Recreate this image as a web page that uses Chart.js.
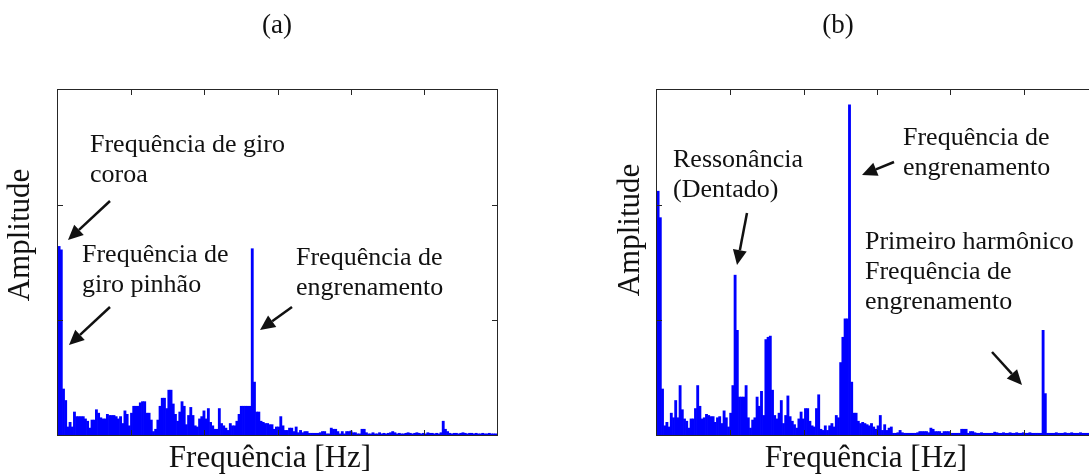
<!DOCTYPE html>
<html>
<head>
<meta charset="utf-8">
<title>Espectros (a) e (b)</title>
<script src="https://cdn.jsdelivr.net/npm/chart.js@4/dist/chart.umd.min.js"></script>
<style>
  html, body { margin: 0; padding: 0; background: #fff; overflow: hidden; }
  #wrapA { position: absolute; left: 0; top: 0; width: 545px; height: 474px; }
  #wrapB { position: absolute; left: 545px; top: 0; width: 555px; height: 474px; }
</style>
</head>
<body>
<div id="wrapA"><canvas id="chartA" width="545" height="474"></canvas></div>
<div id="wrapB"><canvas id="chartB" width="555" height="474"></canvas></div>
<script>
// frequency bins (200 per spectrum), amplitude (axis 0..3)
const freqBins = Array.from({ length: 200 }, (_, i) => String(i));

const amplitudeA = [
  1.64, 1.61, 0.40, 0.30, 0.07, 0.11, 0.07, 0.20, 0.16, 0.16,
  0.16, 0.16, 0.14, 0.12, 0.06, 0.13, 0.13, 0.22, 0.19, 0.15,
  0.14, 0.14, 0.18, 0.17, 0.17, 0.17, 0.16, 0.14, 0.16, 0.10,
  0.21, 0.18, 0.08, 0.19, 0.25, 0.25, 0.25, 0.28, 0.29, 0.29,
  0.19, 0.19, 0.13, 0.03, 0.05, 0.13, 0.25, 0.32, 0.32, 0.23,
  0.39, 0.39, 0.27, 0.18, 0.12, 0.20, 0.29, 0.25, 0.09, 0.17,
  0.24, 0.17, 0.08, 0.07, 0.14, 0.16, 0.21, 0.14, 0.23, 0.11,
  0.08, 0.05, 0.05, 0.23, 0.10, 0.08, 0.06, 0.04, 0.10, 0.08,
  0.08, 0.12, 0.18, 0.25, 0.25, 0.25, 0.25, 0.25, 1.62, 0.46,
  0.20, 0.20, 0.12, 0.11, 0.10, 0.10, 0.09, 0.09, 0.05, 0.07,
  0.07, 0.16, 0.08, 0.04, 0.04, 0.06, 0.06, 0.03, 0.07, 0.02,
  0.04, 0.02, 0.03, 0.03, 0.015, 0.015, 0.015, 0.015, 0.015, 0.02,
  0.03, 0.03, 0.01, 0.01, 0.06, 0.05, 0.05, 0.03, 0.01, 0.03,
  0.01, 0.03, 0.03, 0.035, 0.02, 0.02, 0.01, 0.01, 0.05, 0.05,
  0.02, 0.01, 0.01, 0.02, 0.01, 0.01, 0.02, 0.01, 0.015, 0.01,
  0.015, 0.02, 0.03, 0.02, 0.01, 0.015, 0.01, 0.01, 0.015, 0.02,
  0.015, 0.01, 0.015, 0.02, 0.015, 0.01, 0.015, 0.01, 0.02, 0.015,
  0.015, 0.01, 0.015, 0.01, 0.02, 0.12, 0.05, 0.03, 0.015, 0.01,
  0.015, 0.015, 0.01, 0.015, 0.02, 0.015, 0.01, 0.015, 0.015, 0.01,
  0.015, 0.01, 0.01, 0.015, 0.01, 0.01, 0.015, 0.01, 0.01, 0.01
];

const amplitudeB = [
  2.12, 1.89, 0.40, 0.08, 0.11, 0.07, 0.19, 0.15, 0.30, 0.15,
  0.43, 0.22, 0.14, 0.12, 0.06, 0.14, 0.14, 0.23, 0.43, 0.25,
  0.14, 0.15, 0.18, 0.17, 0.16, 0.16, 0.11, 0.15, 0.16, 0.10,
  0.21, 0.15, 0.07, 0.19, 0.43, 1.39, 0.91, 0.33, 0.33, 0.33,
  0.43, 0.15, 0.06, 0.13, 0.15, 0.33, 0.25, 0.38, 0.17, 0.83,
  0.85, 0.86, 0.39, 0.17, 0.14, 0.19, 0.30, 0.10, 0.17, 0.34,
  0.16, 0.12, 0.09, 0.06, 0.14, 0.20, 0.14, 0.23, 0.23, 0.12,
  0.08, 0.07, 0.23, 0.35, 0.05, 0.04, 0.08, 0.04, 0.08, 0.10,
  0.07, 0.17, 0.15, 0.63, 0.85, 1.01, 1.01, 2.87, 0.46, 0.19,
  0.19, 0.12, 0.10, 0.11, 0.10, 0.09, 0.08, 0.10, 0.07, 0.05,
  0.08, 0.17, 0.04, 0.09, 0.04, 0.06, 0.07, 0.015, 0.015, 0.02,
  0.04, 0.02, 0.015, 0.015, 0.015, 0.015, 0.015, 0.015, 0.02, 0.03,
  0.03, 0.03, 0.03, 0.02, 0.06, 0.05, 0.03, 0.03, 0.03, 0.015,
  0.03, 0.03, 0.03, 0.015, 0.015, 0.015, 0.015, 0.015, 0.05, 0.05,
  0.05, 0.015, 0.03, 0.03, 0.02, 0.015, 0.015, 0.02, 0.015, 0.015,
  0.015, 0.015, 0.015, 0.025, 0.02, 0.015, 0.015, 0.02, 0.015, 0.015,
  0.02, 0.015, 0.015, 0.02, 0.015, 0.015, 0.02, 0.015, 0.015, 0.02,
  0.015, 0.015, 0.015, 0.015, 0.015, 0.91, 0.36, 0.015, 0.015, 0.015,
  0.015, 0.02, 0.015, 0.015, 0.015, 0.02, 0.015, 0.015, 0.02, 0.015,
  0.015, 0.015, 0.02, 0.015, 0.015, 0.015, 0.015, 0.015, 0.015, 0.015
];

const yTicks = [1, 2];

// annotation texts and arrows, offsets in px from the plot box top-left
const notesA = [
  { dx: 32, dy: 62, lines: ['Frequência de giro', 'coroa'] },
  { dx: 24, dy: 172, lines: ['Frequência de', 'giro pinhão'] },
  { dx: 238, dy: 175, lines: ['Frequência de', 'engrenamento'] }
];
const arrowsA = [
  [52, 111, 10, 150],
  [52, 217, 11, 255],
  [234, 217, 202, 240]
];
const notesB = [
  { dx: 16, dy: 77, lines: ['Ressonância', '(Dentado)'] },
  { dx: 246, dy: 55, lines: ['Frequência de', 'engrenamento'] },
  { dx: 208, dy: 159, lines: ['Primeiro harmônico', 'Frequência de', 'engrenamento'] }
];
const arrowsB = [
  [90, 123, 80, 175],
  [237, 72, 205, 85],
  [335, 262, 365, 295]
];

const serif = '"Liberation Serif", "Times New Roman", serif';

function drawArrow(ctx, x1, y1, x2, y2) {
  const ang = Math.atan2(y2 - y1, x2 - x1);
  const hl = 15, hw = 7;
  const bx = x2 - hl * Math.cos(ang), by = y2 - hl * Math.sin(ang);
  ctx.beginPath();
  ctx.moveTo(x1, y1);
  ctx.lineTo(bx, by);
  ctx.lineWidth = 2.5;
  ctx.stroke();
  ctx.beginPath();
  ctx.moveTo(x2, y2);
  ctx.lineTo(bx + hw * Math.sin(ang), by - hw * Math.cos(ang));
  ctx.lineTo(bx - hw * Math.sin(ang), by + hw * Math.cos(ang));
  ctx.closePath();
  ctx.fill();
}

const panelDecor = {
  id: 'panelDecor',
  afterDraw(chart, args, o) {
    const { ctx, chartArea: a } = chart;
    const y = chart.scales.y;
    ctx.save();

    // axes box with inward ticks
    ctx.strokeStyle = '#262626';
    ctx.lineWidth = 1;
    ctx.strokeRect(a.left - 0.5, a.top - 0.5, a.right - a.left + 1, a.bottom - a.top + 1);
    ctx.beginPath();
    const w = a.right - a.left;
    for (let k = 1; k < 6; k++) {
      const x = Math.round(a.left + k * w / 6) + 0.5;
      ctx.moveTo(x, a.top); ctx.lineTo(x, a.top + 5);
      ctx.moveTo(x, a.bottom); ctx.lineTo(x, a.bottom - 5);
    }
    yTicks.forEach(v => {
      const py = Math.round(y.getPixelForValue(v)) + 0.5;
      ctx.moveTo(a.left, py); ctx.lineTo(a.left + 5, py);
      ctx.moveTo(a.right, py); ctx.lineTo(a.right - 5, py);
    });
    ctx.stroke();

    ctx.fillStyle = '#111';
    ctx.strokeStyle = '#111';

    // panel label
    ctx.font = '27px ' + serif;
    ctx.textAlign = 'center';
    ctx.textBaseline = 'alphabetic';
    ctx.fillText(o.label, a.left + o.labelX, a.top - 57);

    // axis titles
    ctx.font = '31px ' + serif;
    ctx.fillText('Frequência [Hz]', a.left + o.xTitleX, a.bottom + 32);
    ctx.save();
    ctx.translate(a.left + o.yTitleX, a.top + o.yTitleY);
    ctx.rotate(-Math.PI / 2);
    ctx.textBaseline = 'middle';
    ctx.fillText('Amplitude', 0, 0);
    ctx.restore();

    // annotations
    ctx.font = '26px ' + serif;
    ctx.textAlign = 'left';
    o.notes.forEach(n => {
      n.lines.forEach((t, i) => ctx.fillText(t, a.left + n.dx, a.top + n.dy + i * 30));
    });
    o.arrows.forEach(([x1, y1, x2, y2]) => {
      drawArrow(ctx, a.left + x1, a.top + y1, a.left + x2, a.top + y2);
    });
    ctx.restore();
  }
};

function makeSpectrum(id, values, pad, decor) {
  return new Chart(document.getElementById(id), {
    type: 'bar',
    data: {
      labels: freqBins,
      datasets: [{
        data: values,
        backgroundColor: '#0000ff',
        borderWidth: 0,
        barPercentage: 1,
        categoryPercentage: 1
      }]
    },
    options: {
      responsive: false,
      animation: false,
      devicePixelRatio: 1,
      layout: { padding: pad },
      scales: {
        x: { display: false },
        y: { display: false, min: 0, max: 3 }
      },
      plugins: {
        legend: { display: false },
        tooltip: { enabled: false },
        panelDecor: decor
      }
    },
    plugins: [panelDecor]
  });
}

makeSpectrum('chartA', amplitudeA, { left: 58, top: 90, right: 48, bottom: 39 }, {
  label: '(a)', labelX: 219, xTitleX: 212, yTitleX: -37, yTitleY: 145,
  notes: notesA, arrows: arrowsA
});
makeSpectrum('chartB', amplitudeB, { left: 112, top: 90, right: 3, bottom: 39 }, {
  label: '(b)', labelX: 181, xTitleX: 209, yTitleX: -26, yTitleY: 140,
  notes: notesB, arrows: arrowsB
});
</script>
</body>
</html>
